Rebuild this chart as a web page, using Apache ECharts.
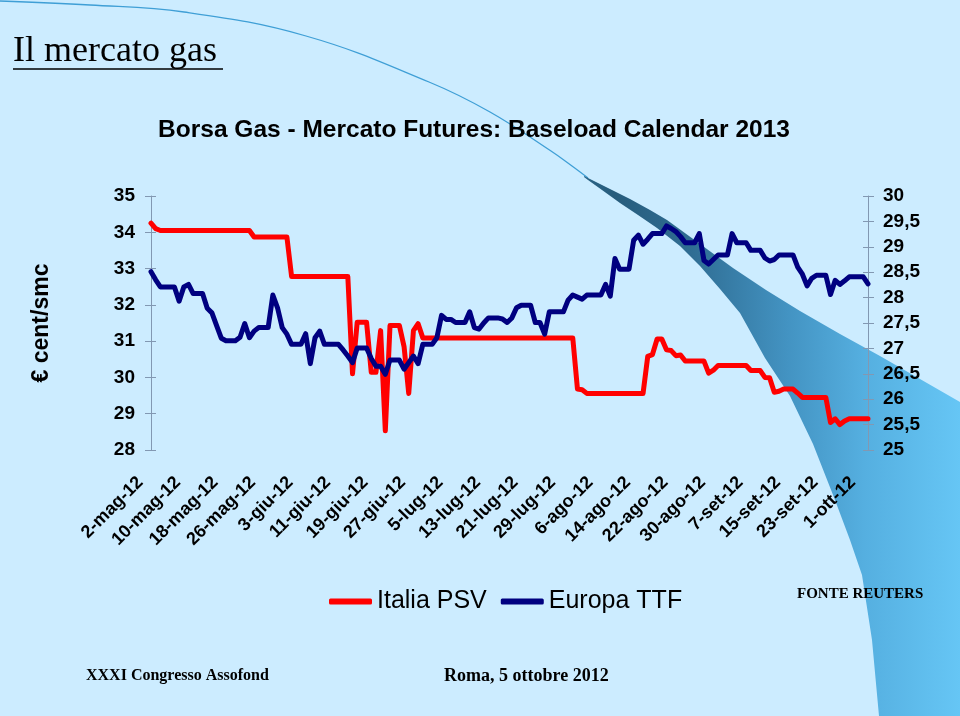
<!DOCTYPE html>
<html>
<head>
<meta charset="utf-8">
<script src="https://cdn.jsdelivr.net/npm/echarts@6/dist/echarts.min.js"></script>
<style>
html,body{margin:0;padding:0;background:#CCECFF;}
#chart{width:960px;height:716px;}
</style>
</head>
<body>
<div id="chart"></div>
<script>
// ---- Data ----
const monthNames = ['gen','feb','mar','apr','mag','giu','lug','ago','set','ott','nov','dic'];
const firstDay = [2012, 4, 2];   // 2-mag-12
const dayCount = 154;            // 2-mag-12 .. 2-ott-12
const labelEvery = 8;            // one tick label every 8 days
const categories = [];
for (let i = 0; i < dayCount; i++) {
  const dt = new Date(Date.UTC(firstDay[0], firstDay[1], firstDay[2] + i));
  categories.push(dt.getUTCDate() + '-' + monthNames[dt.getUTCMonth()] + '-12');
}

const seriesNames = ['Italia PSV', 'Europa TTF'];

// Italia PSV (cent/smc, left axis)
const psv = [
  34.25,34.1,
  34.05,34.05,34.05,34.05,34.05,34.05,34.05,34.05,34.05,34.05,
  34.05,34.05,34.05,34.05,34.05,34.05,34.05,34.05,34.05,34.05,
  33.87,33.87,33.87,33.87,33.87,33.87,33.87,33.87,
  32.78,32.78,32.78,32.78,32.78,32.78,32.78,32.78,32.78,32.78,32.78,32.78,32.78,
  30.1,31.52,31.52,31.52,30.14,30.14,31.29,28.53,31.43,31.43,31.43,30.85,29.56,31.29,31.48,
  31.09,31.09,31.09,31.09,31.09,31.09,31.09,31.09,31.09,31.09,31.09,
  31.09,31.09,31.09,31.09,31.09,31.09,31.09,31.09,31.09,31.09,31.09,
  31.09,31.09,31.09,31.09,31.09,31.09,31.09,31.09,31.09,31.09,31.09,
  29.68,29.66,
  29.56,29.56,29.56,29.56,29.56,29.56,29.56,29.56,29.56,29.56,29.56,29.56,29.56,
  30.58,30.63,31.06,31.06,30.76,30.74,30.6,30.62,
  30.45,30.45,30.45,30.45,30.45,
  30.12,30.2,
  30.33,30.33,30.33,30.33,30.33,30.33,30.33,
  30.19,30.19,30.19,
  30.0,29.99,29.59,29.62,
  29.68,29.68,29.68,
  29.57,
  29.45,29.45,29.45,29.45,29.45,29.45,
  28.76,28.86,28.7,28.8,
  28.86,28.86,28.86,28.86,28.86
];

// Europa TTF (right axis)
const ttf = [
  28.51,28.35,28.21,28.21,28.21,28.21,27.93,28.21,28.26,28.08,28.08,28.08,
  27.79,27.7,27.45,27.2,27.15,27.15,27.15,27.22,27.49,27.21,27.34,
  27.41,27.41,27.41,28.05,27.8,27.41,27.28,27.08,27.08,27.08,
  27.29,26.7,27.21,27.34,27.08,27.08,27.08,27.08,26.97,26.85,26.72,
  27.01,27.01,27.01,26.8,26.65,26.65,26.49,26.77,26.77,26.77,
  26.59,26.72,26.85,26.7,27.08,27.08,27.08,27.21,27.65,27.57,27.57,
  27.51,27.51,27.51,27.72,27.41,27.38,27.5,27.6,27.6,27.6,
  27.58,27.51,27.6,27.8,27.85,27.85,27.85,27.51,27.51,27.28,
  27.72,27.72,27.72,27.72,27.95,28.05,28.01,27.97,28.05,28.05,28.05,28.05,
  28.26,28.03,28.77,28.56,28.56,28.56,29.13,29.23,29.05,29.15,
  29.26,29.26,29.26,29.41,29.36,29.3,29.2,29.08,29.08,29.08,
  29.26,28.73,28.66,28.75,28.84,28.84,28.84,29.26,29.08,29.08,29.08,
  28.93,28.93,28.93,28.78,28.72,28.75,28.84,28.84,28.84,28.84,
  28.6,28.46,28.23,28.38,28.44,28.44,28.44,
  28.06,28.34,28.26,28.33,28.41,28.41,28.41,28.41,28.27
];

const leftAxisRange = [28, 35, 1];
const rightAxisRange = [25, 30, 0.5];

// ---- Decoration geometry (slide background swoosh) ----
const arcPoints = [[0,1],[90,5],[184,12],[306,36],[429,82],[490,112],[551,151],[572,166],[588,178]];
const swooshUpper = [[584,176],[598,183],[612,190],[630,199],[650,210],[667,220],[700,244],[733,268],[766,290],[800,311],[840,334],[880,356],[920,379],[960,402]];
const swooshLower = [[960,716],[879,716],[872,640],[862,575],[850,540],[835,500],[813,444],[790,396],[765,358],[740,313],[720,289],[700,266],[680,246],[657,228],[638,215],[620,203],[602,190],[588,180],[584,177]];

const chart = echarts.init(document.getElementById('chart'), null, {renderer: 'canvas'});
const axisColor = '#8298b2';
const FONT = 'Liberation Sans, Arial, sans-serif';
const SERIF = 'Liberation Serif, Times New Roman, serif';

const swooshFill = {
  type: 'linear', x: 0, y: 0, x2: 960, y2: 0, global: true,
  colorStops: [
    {offset: 0, color: '#4fb0e0'},
    {offset: 0.58, color: '#2c6a8f'},
    {offset: 0.64, color: '#275c7c'},
    {offset: 0.72, color: '#2f6d93'},
    {offset: 0.82, color: '#4393c2'},
    {offset: 0.9, color: '#55afe0'},
    {offset: 1, color: '#66c6f5'}
  ]
};

const crossTickAxis = (pos, range) => ({
  type: 'value', position: pos,
  min: range[0], max: range[1], interval: range[2],
  axisLine: {show: false},
  axisTick: {show: true, inside: true, length: 5, lineStyle: {color: axisColor}},
  axisLabel: {show: false},
  splitLine: {show: false}
});

chart.setOption({
  backgroundColor: '#CCECFF',
  animation: false,
  graphic: [
    {
      type: 'polyline', z: 0, silent: true,
      shape: {points: arcPoints, smooth: 0.4},
      style: {stroke: '#3f9fd6', lineWidth: 1.3, fill: null}
    },
    {
      type: 'polygon', z: 0, silent: true,
      shape: {points: swooshUpper.concat(swooshLower)},
      style: {fill: swooshFill}
    },
    {
      type: 'text', z: 100, x: 13, y: 52,
      style: {text: 'Il mercato gas', font: '36px ' + SERIF, fill: '#000', textVerticalAlign: 'middle'}
    },
    {
      type: 'line', z: 100, shape: {x1: 13, y1: 69, x2: 223, y2: 69},
      style: {stroke: '#000', lineWidth: 1.5}
    },
    {
      type: 'text', z: 100, x: 474, y: 130,
      style: {text: 'Borsa Gas - Mercato Futures: Baseload Calendar 2013', font: 'bold 24.5px ' + FONT, fill: '#000', textAlign: 'center', textVerticalAlign: 'middle'}
    },
    {
      type: 'text', z: 100, x: 42, y: 323, rotation: Math.PI / 2,
      style: {text: '€ cent/smc', font: 'bold 23px ' + FONT, fill: '#000', textAlign: 'center', textVerticalAlign: 'middle'}
    },
    {
      type: 'text', z: 100, x: 797, y: 594,
      style: {text: 'FONTE REUTERS', font: 'bold 15px ' + SERIF, fill: '#000', textVerticalAlign: 'middle'}
    },
    {
      type: 'text', z: 100, x: 86, y: 676,
      style: {text: 'XXXI Congresso Assofond', font: 'bold 16px ' + SERIF, fill: '#000', textVerticalAlign: 'middle'}
    },
    {
      type: 'text', z: 100, x: 444, y: 676,
      style: {text: 'Roma, 5 ottobre 2012', font: 'bold 18px ' + SERIF, fill: '#000', textVerticalAlign: 'middle'}
    }
  ],
  legend: {
    data: seriesNames,
    left: 324, top: 584,
    icon: 'roundRect',
    itemWidth: 43, itemHeight: 6, itemGap: 14,
    textStyle: {fontFamily: FONT, fontSize: 25, color: '#000'}
  },
  grid: {left: 151, right: 92, top: 196, bottom: 266, containLabel: false, outerBoundsMode: 'none'},
  xAxis: {
    type: 'category',
    data: categories,
    boundaryGap: false,
    axisLine: {show: false},
    axisTick: {show: false},
    splitLine: {show: false},
    axisLabel: {
      interval: (idx) => idx % labelEvery === 0,
      rotate: 45, margin: 19, padding: [0, 15, 0, 0],
      hideOverlap: false,
      fontFamily: FONT, fontWeight: 'bold', fontSize: 18, color: '#000'
    }
  },
  yAxis: [
    {
      type: 'value', position: 'left',
      min: leftAxisRange[0], max: leftAxisRange[1], interval: leftAxisRange[2],
      axisLine: {show: true, lineStyle: {color: axisColor, width: 1}},
      axisTick: {show: true, length: 6, lineStyle: {color: axisColor}},
      splitLine: {show: false},
      axisLabel: {margin: 16, fontFamily: FONT, fontWeight: 'bold', fontSize: 19, color: '#000'}
    },
    {
      type: 'value', position: 'right',
      min: rightAxisRange[0], max: rightAxisRange[1], interval: rightAxisRange[2],
      axisLine: {show: true, lineStyle: {color: axisColor, width: 1}},
      axisTick: {show: true, length: 6, lineStyle: {color: axisColor}},
      splitLine: {show: false},
      axisLabel: {
        margin: 15, fontFamily: FONT, fontWeight: 'bold', fontSize: 19, color: '#000',
        formatter: v => String(v).replace('.', ',')
      }
    },
    crossTickAxis('left', leftAxisRange),
    crossTickAxis('right', rightAxisRange)
  ],
  series: [
    {
      name: seriesNames[0], type: 'line', yAxisIndex: 0, data: psv,
      showSymbol: false, symbol: 'none', z: 3,
      color: '#ff0000',
      lineStyle: {color: '#ff0000', width: 5, cap: 'round', join: 'round'}
    },
    {
      name: seriesNames[1], type: 'line', yAxisIndex: 1, data: ttf,
      showSymbol: false, symbol: 'none', z: 4,
      color: '#000080',
      lineStyle: {color: '#000080', width: 5, cap: 'round', join: 'round'}
    }
  ]
});
</script>
</body>
</html>
